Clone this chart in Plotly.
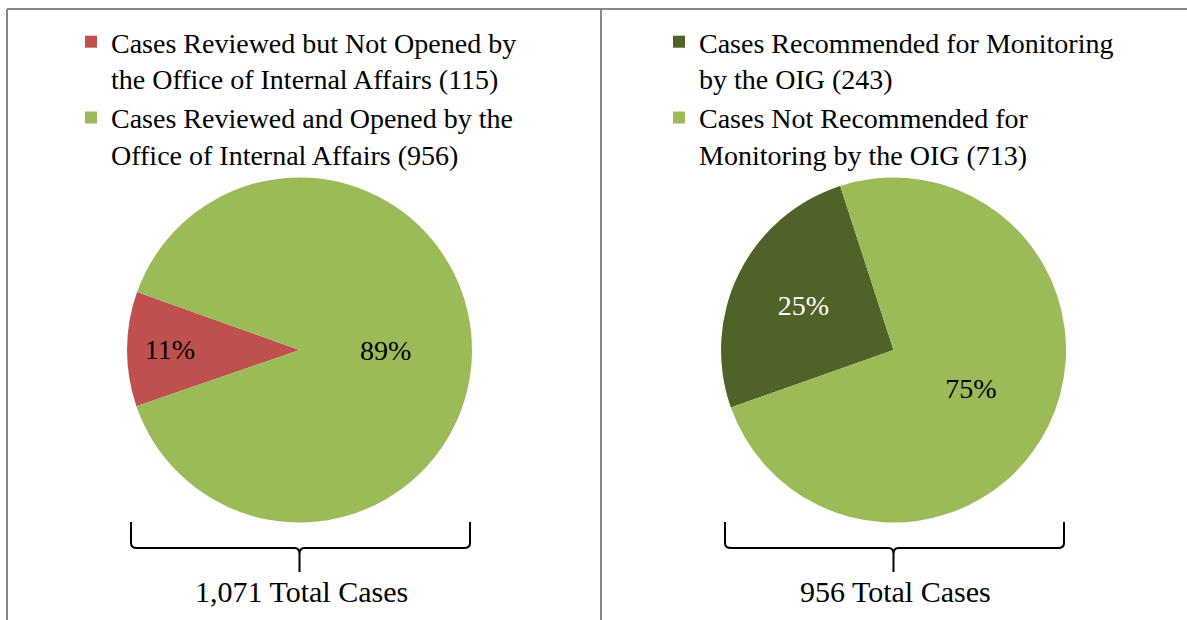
import plotly.graph_objects as go

W, H = 1187, 620
FONT = "Liberation Serif"

# ---- data ----
left_labels = [
    "Cases Reviewed but Not Opened by<br>the Office of Internal Affairs (115)",
    "Cases Reviewed and Opened by the<br>Office of Internal Affairs (956)",
]
left_values = [115, 956]
left_colors = ["#C0504D", "#9BBB59"]
left_text_colors = ["black", "black"]
left_total = "1,071 Total Cases"

right_labels = [
    "Cases Recommended for Monitoring<br>by the OIG (243)",
    "Cases Not Recommended for<br>Monitoring by the OIG (713)",
]
right_values = [243, 713]
right_colors = ["#4F6228", "#9BBB59"]
right_text_colors = ["white", "black"]
right_total = "956 Total Cases"


def px_x(x):
    return x / W


def px_y(y):
    return 1 - y / H


# pie placement (pixels): center x, center y, radius
left_pie = (299.5, 350, 172.5)
right_pie = (893.5, 350, 172.5)


def domain(p):
    cx, cy, r = p
    return dict(x=[px_x(cx - r), px_x(cx + r)], y=[px_y(cy + r), px_y(cy - r)])


fig = go.Figure()
fig.add_trace(go.Pie(
    labels=left_labels, values=left_values, sort=False, direction="clockwise",
    rotation=251, marker=dict(colors=left_colors, line=dict(width=0)),
    texttemplate="%{percent:.0%}", textposition="inside",
    insidetextorientation="horizontal",
    textfont=dict(family=FONT, size=28, color=left_text_colors),
    domain=domain(left_pie), legend="legend", hoverinfo="label+value+percent",
))
fig.add_trace(go.Pie(
    labels=right_labels, values=right_values, sort=False, direction="clockwise",
    rotation=250.5, marker=dict(colors=right_colors, line=dict(width=0)),
    texttemplate="%{percent:.0%}", textposition="inside",
    insidetextorientation="horizontal",
    textfont=dict(family=FONT, size=28, color=right_text_colors),
    domain=domain(right_pie), legend="legend2", hoverinfo="label+value+percent",
))

shapes = []
border = dict(color="#878787", width=2)
# outer frame and divider
shapes.append(dict(type="line", xref="paper", yref="paper", x0=px_x(7), x1=1.01,
                   y0=px_y(9), y1=px_y(9), line=border))
shapes.append(dict(type="line", xref="paper", yref="paper", x0=px_x(7), x1=px_x(7),
                   y0=px_y(9), y1=-0.01, line=border))
shapes.append(dict(type="line", xref="paper", yref="paper", x0=px_x(601), x1=px_x(601),
                   y0=px_y(9), y1=-0.01, line=border))


def brace(p):
    cx, cy, r = p
    x0, x1 = cx - r + 4, cx + r - 2
    top, mid, tip = 522, 548, 572
    pts = [
        f"M {px_x(x0)},{px_y(top)}",
        f"L {px_x(x0)},{px_y(mid - 5)}",
        f"Q {px_x(x0)},{px_y(mid)} {px_x(x0 + 6)},{px_y(mid)}",
        f"L {px_x(cx - 5)},{px_y(mid)}",
        f"Q {px_x(cx)},{px_y(mid)} {px_x(cx)},{px_y(mid + 6)}",
        f"L {px_x(cx)},{px_y(tip)}",
        f"M {px_x(cx)},{px_y(mid + 6)}",
        f"Q {px_x(cx)},{px_y(mid)} {px_x(cx + 5)},{px_y(mid)}",
        f"L {px_x(x1 - 6)},{px_y(mid)}",
        f"Q {px_x(x1)},{px_y(mid)} {px_x(x1)},{px_y(mid - 5)}",
        f"L {px_x(x1)},{px_y(top)}",
    ]
    return dict(type="path", xref="paper", yref="paper", path=" ".join(pts),
                line=dict(color="black", width=2), fillcolor="rgba(0,0,0,0)")


shapes.append(brace(left_pie))
shapes.append(brace(right_pie))

annotations = [
    dict(text=left_total, x=px_x(left_pie[0] + 2), y=px_y(591), xref="paper", yref="paper",
         showarrow=False, xanchor="center", yanchor="middle",
         font=dict(family=FONT, size=30, color="black")),
    dict(text=right_total, x=px_x(right_pie[0] + 2), y=px_y(591), xref="paper", yref="paper",
         showarrow=False, xanchor="center", yanchor="middle",
         font=dict(family=FONT, size=30, color="black")),
]

legend_style = dict(font=dict(family=FONT, size=28, color="black"), bgcolor="rgba(0,0,0,0)",
                    xanchor="left", yanchor="top", itemclick=False, itemdoubleclick=False,
                    tracegroupgap=0, valign="top")

fig.update_layout(
    width=W, height=H, autosize=False,
    margin=dict(l=0, r=0, t=0, b=0),
    paper_bgcolor="white", plot_bgcolor="white",
    font=dict(family=FONT, color="black"),
    showlegend=True,
    legend=dict(x=px_x(71), y=px_y(17), **legend_style),
    legend2=dict(x=px_x(659), y=px_y(17), **legend_style),
    shapes=shapes, annotations=annotations,
)

fig.write_html("out.html", config={"displayModeBar": False},
               post_script="document.body.style.margin='0';")
